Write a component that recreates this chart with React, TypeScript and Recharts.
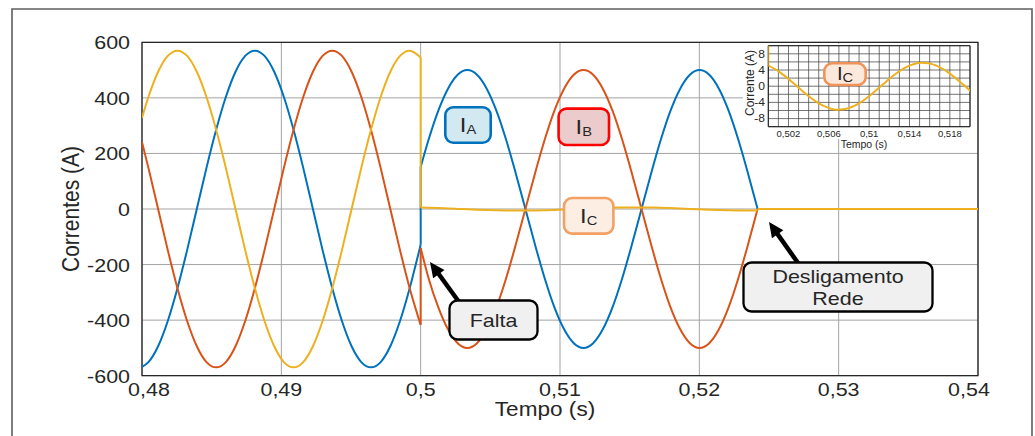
import React from 'react';
import { LineChart, Line, XAxis, YAxis, CartesianGrid, ReferenceArea } from 'recharts';

// ---------- axis ticks ----------
const X_TICKS = [0.48, 0.49, 0.5, 0.51, 0.52, 0.53, 0.54];
const Y_TICKS = [-600, -400, -200, 0, 200, 400, 600];
const INSET_X_TICKS = [0.502, 0.506, 0.51, 0.514, 0.518];
const INSET_Y_TICKS = [-8, -4, 0, 4, 8];
const INSET_X_GRID = [0.5, 0.501, 0.502, 0.503, 0.504, 0.505, 0.506, 0.507, 0.508, 0.509, 0.51, 0.511, 0.512, 0.513, 0.514, 0.515, 0.516, 0.517, 0.518, 0.519, 0.52];
const INSET_Y_GRID = [-10, -8, -6, -4, -2, 0, 2, 4, 6, 8, 10];

// ---------- currents before the fault (s, A) ----------
const T_PRE = [0.48, 0.480461, 0.481156, 0.48185, 0.482544, 0.483239, 0.483933, 0.484628, 0.485322, 0.486017, 0.486711, 0.487406, 0.4881, 0.488794, 0.489489, 0.490183, 0.490878, 0.491572, 0.492267, 0.492961, 0.493656, 0.49435, 0.495044, 0.495739, 0.496433, 0.497128, 0.497822, 0.498517, 0.499211, 0.5];
const IA_PRE = [-568, -551, -494, -403, -285, -148, 0, 148, 285, 403, 494, 551, 570, 551, 494, 403, 285, 148, 0, -148, -285, -403, -494, -551, -570, -551, -494, -403, -285, -128];
const IB_PRE = [241, 148, 0, -148, -285, -403, -494, -551, -570, -551, -494, -403, -285, -148, 0, 148, 285, 403, 494, 551, 570, 551, 494, 403, 285, 148, 0, -148, -285, -417];
const IC_PRE = [328, 403, 494, 551, 570, 551, 494, 403, 285, 148, 0, -148, -285, -403, -494, -551, -570, -551, -494, -403, -285, -148, 0, 148, 285, 403, 494, 551, 570, 545];

// ---------- step at the fault instant ----------
const T_JUMP = [0.5, 0.5];
const IA_JUMP = [-128, 151];
const IB_JUMP = [-417, -140];
const IC_JUMP = [545, 5.08];

// ---------- currents during the fault ----------
const T_POST = [0.5, 0.500572, 0.501267, 0.501961, 0.502656, 0.50335, 0.504044, 0.504739, 0.505433, 0.506128, 0.506822, 0.507517, 0.508211, 0.508906, 0.5096, 0.510294, 0.510989, 0.511683, 0.512378, 0.513072, 0.513767, 0.514461, 0.515156, 0.51585, 0.516544, 0.517239, 0.517933, 0.518628, 0.519322, 0.520017, 0.520711, 0.521406, 0.5221, 0.522794, 0.523489, 0.524183];
const IA_POST = [151, 250, 354, 433, 483, 500, 483, 433, 354, 250, 129, 0, -129, -250, -354, -433, -483, -500, -483, -433, -354, -250, -129, 0, 129, 250, 354, 433, 483, 500, 483, 433, 354, 250, 129, 0];
const IB_POST = [-140, -250, -354, -433, -483, -500, -483, -433, -354, -250, -129, 0, 129, 250, 354, 433, 483, 500, 483, 433, 354, 250, 129, 0, -129, -250, -354, -433, -483, -500, -483, -433, -354, -250, -129, 0];
const IC_POST = [5.08, 4.37, 3.23, 1.87, 0.39, -1.12, -2.56, -3.82, -4.82, -5.49, -5.79, -5.69, -5.21, -4.37, -3.23, -1.87, -0.39, 1.12, 2.56, 3.82, 4.82, 5.49, 5.79, 5.69, 5.21, 4.37, 3.23, 1.87, 0.39, -1.12, -2.56, -3.82, -4.82, -5.49, -5.79, -5.69];

// ---------- after grid disconnection ----------
const T_OFF = [0.524183, 0.54];
const IA_OFF = [0, 0];
const IB_OFF = [0, 0];
const IC_OFF = [0, 0];

const COLOR_A = '#0072BD';
const COLOR_B = '#D95319';
const COLOR_C = '#EDB120';
const FONT = '"Liberation Sans", Arial, Helvetica, sans-serif';
const TXT = '#262626';
const SX = 1.13;

const seg = (ts: number[], vs: number[]) => ts.map((t, i) => ({ t, v: vs[i] }));

const PHASES = [
  { key: 'A', color: COLOR_A, segs: [seg(T_PRE, IA_PRE), seg(T_JUMP, IA_JUMP), seg(T_POST, IA_POST), seg(T_OFF, IA_OFF)] },
  { key: 'B', color: COLOR_B, segs: [seg(T_PRE, IB_PRE), seg(T_JUMP, IB_JUMP), seg(T_POST, IB_POST), seg(T_OFF, IB_OFF)] },
  { key: 'C', color: COLOR_C, segs: [seg(T_PRE, IC_PRE), seg(T_JUMP, IC_JUMP), seg(T_POST, IC_POST), seg(T_OFF, IC_OFF)] },
];

const INSET_SEGS = [seg(T_JUMP, IC_JUMP), seg(T_POST, IC_POST)];

const fmt = (v: number) => String(parseFloat(v.toFixed(3))).replace('.', ',');

const MainXTick = (props: any) => {
  const { x, payload } = props;
  const v = payload.value;
  const shift = v === 0.48 ? 7 : v === 0.54 ? -9 : 0;
  return (
    <text transform={`translate(${x + shift},396) scale(${SX},1)`} textAnchor="middle" fontSize={19} fill={TXT} fontFamily={FONT}>
      {fmt(v)}
    </text>
  );
};

const MainYTick = (props: any) => {
  const { y, payload } = props;
  return (
    <text transform={`translate(130,${y + 7}) scale(${SX},1)`} textAnchor="end" fontSize={19} fill={TXT} fontFamily={FONT}>
      {String(payload.value)}
    </text>
  );
};

const InsetXTick = (props: any) => {
  const { x, payload } = props;
  return (
    <text transform={`translate(${x},93.6)`} textAnchor="middle" fontSize={9.5} fill={TXT} fontFamily={FONT}>
      {fmt(payload.value)}
    </text>
  );
};

const InsetYTick = (props: any) => {
  const { y, payload } = props;
  return (
    <text transform={`translate(22,${y + 3.8}) scale(1.1,1)`} textAnchor="end" fontSize={11} fill={TXT} fontFamily={FONT}>
      {String(payload.value)}
    </text>
  );
};

const Arrow = ({ tip, tail }: { tip: [number, number]; tail: [number, number] }) => {
  const dx = tip[0] - tail[0];
  const dy = tip[1] - tail[1];
  const len = Math.sqrt(dx * dx + dy * dy);
  const ux = dx / len;
  const uy = dy / len;
  const hl = 15;
  const hw = 7;
  const bx = tip[0] - hl * ux;
  const by = tip[1] - hl * uy;
  const nx = -uy;
  const ny = ux;
  return (
    <g>
      <line x1={tail[0]} y1={tail[1]} x2={bx + 2 * ux} y2={by + 2 * uy} stroke="#000" strokeWidth={4.5} />
      <polygon points={`${tip[0]},${tip[1]} ${bx + hw * nx},${by + hw * ny} ${bx - hw * nx},${by - hw * ny}`} fill="#000" />
    </g>
  );
};

const SubLabel = ({ x, y, w, h, fill, stroke, sub, size, subSize, rx }: any) => (
  <g>
    <rect x={x} y={y} width={w} height={h} rx={rx} ry={rx} fill={fill} stroke={stroke} strokeWidth={2.6} />
    <text
      transform={`translate(${x + w / 2},${y + h / 2 + size * 0.33}) scale(${SX},1)`}
      textAnchor="middle"
      fontSize={size}
      fill={TXT}
      fontFamily={FONT}
    >
      I
      <tspan fontSize={subSize} dy={subSize * 0.15}>{sub}</tspan>
    </text>
  </g>
);

export default function App() {
  return (
    <div style={{ position: 'absolute', left: 0, top: 0, width: 1035, height: 436, background: '#fff', overflow: 'hidden', fontFamily: FONT }}>
      {/* main chart */}
      <div style={{ position: 'absolute', left: 0, top: 0 }}>
        <LineChart width={1035} height={436} margin={{ top: 42.3, right: 57, bottom: 0, left: 0 }}>
          <CartesianGrid stroke="#a3a3a3" strokeWidth={1} />
          <XAxis
            type="number"
            dataKey="t"
            domain={[0.48, 0.54]}
            ticks={X_TICKS}
            allowDataOverflow
            height={60.3}
            axisLine={false}
            tickLine={false}
            tick={MainXTick}
            interval={0}
          />
          <YAxis
            type="number"
            domain={[-600, 600]}
            ticks={Y_TICKS}
            allowDataOverflow
            width={142}
            axisLine={false}
            tickLine={false}
            tick={MainYTick}
            interval={0}
          />
          <ReferenceArea x1={0.48} x2={0.54} y1={-600} y2={600} fill="none" stroke="#262626" strokeWidth={1.3} />
          {PHASES.flatMap((p) =>
            p.segs.map((d, i) => (
              <Line
                key={`${p.key}${i}`}
                data={d}
                dataKey="v"
                type={i === 0 || i === 2 ? 'monotone' : 'linear'}
                stroke={p.color}
                strokeWidth={2}
                dot={false}
                activeDot={false}
                isAnimationActive={false}
              />
            ))
          )}
        </LineChart>
      </div>

      {/* inset background */}
      <div style={{ position: 'absolute', left: 743, top: 43.5, width: 233.5, height: 95, background: '#fff' }} />

      {/* inset chart */}
      <div style={{ position: 'absolute', left: 743, top: 43 }}>
        <LineChart width={234} height={110} margin={{ top: 2.7, right: 7, bottom: 0, left: 0 }} style={{ overflow: 'visible' }}>
          <CartesianGrid stroke="#454545" strokeWidth={0.75} verticalValues={INSET_X_GRID} horizontalValues={INSET_Y_GRID} />
          <XAxis
            type="number"
            dataKey="t"
            domain={[0.5, 0.52]}
            ticks={INSET_X_TICKS}
            allowDataOverflow
            height={26.3}
            axisLine={false}
            tickLine={false}
            tick={InsetXTick}
            interval={0}
          />
          <YAxis
            type="number"
            domain={[-10, 10]}
            ticks={INSET_Y_TICKS}
            allowDataOverflow
            width={25.3}
            axisLine={false}
            tickLine={false}
            tick={InsetYTick}
            interval={0}
          />
          <ReferenceArea x1={0.5} x2={0.52} y1={-10} y2={10} fill="none" stroke="#1a1a1a" strokeWidth={1} />
          {INSET_SEGS.map((d, i) => (
            <Line
              key={`ic${i}`}
              data={d}
              dataKey="v"
              type={i === 1 ? 'monotone' : 'linear'}
              stroke={COLOR_C}
              strokeWidth={2}
              dot={false}
              activeDot={false}
              isAnimationActive={false}
            />
          ))}
        </LineChart>
      </div>

      {/* annotations */}
      <svg width={1035} height={436} style={{ position: 'absolute', left: 0, top: 0, pointerEvents: 'none' }}>
        {/* outer figure frame */}
        <polyline points="12,436 12,9 1032,9 1032,436" fill="none" stroke="#5e5e5e" strokeWidth={1.6} />

        {/* axis titles */}
        <text transform={`translate(79,209) rotate(-90) scale(1,${SX})`} textAnchor="middle" fontSize={21} fill={TXT} fontFamily={FONT}>
          Correntes (A)
        </text>
        <text transform={`translate(545,416) scale(${SX},1)`} textAnchor="middle" fontSize={20} fill={TXT} fontFamily={FONT}>
          Tempo (s)
        </text>

        {/* inset titles */}
        <text transform="translate(864,148)" textAnchor="middle" fontSize={10.5} fill={TXT} fontFamily={FONT}>
          Tempo (s)
        </text>
        <text transform="translate(754,83) rotate(-90) scale(1,1.1)" textAnchor="middle" fontSize={12} fill={TXT} fontFamily={FONT}>
          Corrente (A)
        </text>

        {/* phase labels */}
        <SubLabel x={445.3} y={107.3} w={45.4} h={35.4} rx={8} fill="#d3e9f1" stroke={COLOR_A} sub="A" size={21} subSize={13} />
        <SubLabel x={558.6} y={108.6} w={50.4} h={36.4} rx={8} fill="#ebcbcb" stroke="#ff0000" sub="B" size={21} subSize={13} />
        <SubLabel x={564} y={198} w={49.4} h={35.6} rx={8} fill="#fdeee3" stroke="#f2a064" sub="C" size={21} subSize={13} />
        <SubLabel x={824.3} y={63.3} w={41.4} h={21.7} rx={8} fill="#fde9dc" stroke="#f0925a" sub="C" size={18} subSize={13} />

        {/* Falta */}
        <Arrow tip={[430, 262]} tail={[459, 302]} />
        <rect x={449.5} y={300.5} width={88} height={39} rx={8} ry={8} fill="#f0f0f0" stroke="#000" strokeWidth={2.3} />
        <text transform={`translate(493.5,327) scale(${SX},1)`} textAnchor="middle" fontSize={19} fill={TXT} fontFamily={FONT}>
          Falta
        </text>

        {/* Desligamento Rede */}
        <Arrow tip={[769, 222]} tail={[798, 263]} />
        <rect x={743.5} y={262.5} width={189} height={49} rx={8} ry={8} fill="#f0f0f0" stroke="#000" strokeWidth={2.3} />
        <text transform={`translate(838,283) scale(${SX},1)`} textAnchor="middle" fontSize={19} fill={TXT} fontFamily={FONT}>
          Desligamento
        </text>
        <text transform={`translate(838,305) scale(${SX},1)`} textAnchor="middle" fontSize={19} fill={TXT} fontFamily={FONT}>
          Rede
        </text>
      </svg>
    </div>
  );
}
